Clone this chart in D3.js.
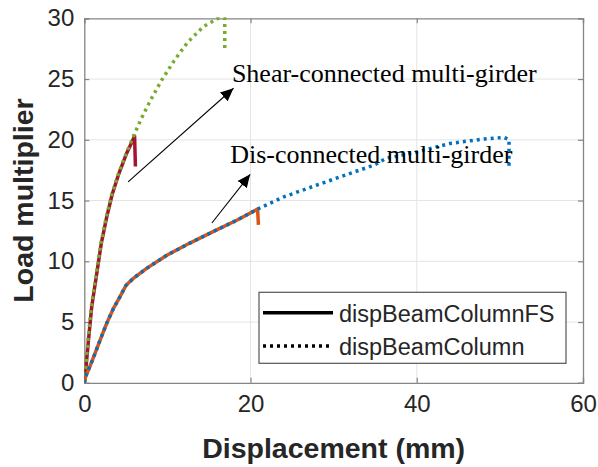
<!DOCTYPE html>
<html><head><meta charset="utf-8">
<script src="https://cdn.jsdelivr.net/npm/d3@7"></script>
<style>html,body{margin:0;padding:0;background:#fff;}svg{display:block;}</style>
</head><body>
<script>
// ---- data ----
const xTicks = [0, 20, 40, 60];
const yTicks = [0, 5, 10, 15, 20, 25, 30];
const seriesNames = ["dispBeamColumnFS", "dispBeamColumn"];

const shearFSx = [0, 0.1, 0.5, 0.9, 1.5, 2.05, 2.65, 3.35, 4.15, 5.1, 6.05, 6.15];
const shearFSy = [0, 0.5, 3.5, 6.3, 9.0, 11.5, 13.5, 15.5, 17.2, 18.9, 20.3, 17.8];

const shearDx = [0, 0.07, 0.45, 0.85, 1.45, 2.0, 2.6, 3.3, 4.1, 5.05, 5.95, 6.9, 8.0, 9.3, 10.8, 12.4, 14.3, 16.1, 16.9, 16.9];
const shearDy = [0, 0.5, 3.5, 6.3, 9.0, 11.5, 13.5, 15.5, 17.2, 18.9, 20.35, 21.8, 23.3, 24.9, 26.5, 28.0, 29.3, 30.0, 30.0, 27.4];

const disFSx = [0, 0.15, 1.0, 1.89, 2.7, 3.49, 4.3, 5.0, 5.9, 7.5, 9.93, 12.7, 15.5, 18.4, 20.85, 20.95];
const disFSy = [0, 0.5, 1.9, 3.5, 4.9, 6.1, 7.1, 8.0, 8.6, 9.42, 10.5, 11.5, 12.44, 13.4, 14.3, 13.0];

const disDx = [0, 0.15, 1.0, 1.89, 2.7, 3.49, 4.3, 5.0, 5.9, 7.5, 9.93, 12.7, 15.5, 18.4, 20.85, 24.0, 28.0, 32.0, 34.8, 36.4, 37.6, 40.0, 44.0, 48.1, 50.5, 51.1, 51.1];
const disDy = [0, 0.5, 1.9, 3.5, 4.9, 6.1, 7.1, 8.0, 8.6, 9.42, 10.5, 11.5, 12.44, 13.4, 14.3, 15.3, 16.28, 17.24, 17.9, 18.5, 18.65, 19.0, 19.7, 20.07, 20.2, 20.0, 17.65];

const labels = ["Shear-connected multi-girder", "Dis-connected multi-girder"];
const labelPos = [[17.76, 24.72], [17.55, 18.1]];
const arrowFrom = [[5.27, 16.53], [15.35, 13.15]];
const arrowTo = [[17.95, 24.24], [19.96, 17.16]];

// ---- layout ----
const W = 598, H = 467;
const x = d3.scaleLinear().domain([0, 60]).range([84.3, 583]);
const y = d3.scaleLinear().domain([0, 30]).range([382.8, 18.3]);
const axisCol = "#858585", textCol = "#262626";

const svg = d3.select("body").append("svg").attr("width", W).attr("height", H)
  .style("font-family", "'Liberation Sans', Arial, sans-serif");

const defs = svg.append("defs");
defs.append("clipPath").attr("id", "clip").append("rect")
  .attr("x", x(0)).attr("y", y(30) - 1).attr("width", x(60) - x(0)).attr("height", y(0) - y(30) + 1);
defs.append("marker").attr("id", "ah").attr("viewBox", "0 0 10 10").attr("refX", 10).attr("refY", 5)
  .attr("markerWidth", 13).attr("markerHeight", 13).attr("markerUnits", "userSpaceOnUse").attr("orient", "auto")
  .append("path").attr("d", "M0,0.5 L10,5 L0,9.5 Z").attr("fill", "#000");

// grid
const g = svg.append("g");
g.selectAll(".gx").data(xTicks.slice(1, -1)).enter().append("line")
  .attr("x1", d => x(d)).attr("x2", d => x(d)).attr("y1", y(0)).attr("y2", y(30))
  .attr("stroke", "#e4e4e4").attr("stroke-width", 1);
g.selectAll(".gy").data(yTicks.slice(1, -1)).enter().append("line")
  .attr("y1", d => y(d)).attr("y2", d => y(d)).attr("x1", x(0)).attr("x2", x(60))
  .attr("stroke", "#e4e4e4").attr("stroke-width", 1);

// axes (bottom/left with labels; top/right mirror ticks)
const tl = 5;
const axB = svg.append("g").attr("transform", `translate(0,${y(0)})`)
  .call(d3.axisBottom(x).tickValues(xTicks).tickSize(-tl).tickPadding(12).tickFormat(d3.format("d")));
const axL = svg.append("g").attr("transform", `translate(${x(0)},0)`)
  .call(d3.axisLeft(y).tickValues(yTicks).tickSize(-tl).tickPadding(10).tickFormat(d3.format("d")));
const axT = svg.append("g").attr("transform", `translate(0,${y(30)})`)
  .call(d3.axisTop(x).tickValues(xTicks).tickSize(-tl).tickFormat(""));
const axR = svg.append("g").attr("transform", `translate(${x(60)},0)`)
  .call(d3.axisRight(y).tickValues(yTicks).tickSize(-tl).tickFormat(""));
[axB, axL, axT, axR].forEach(a => {
  a.select(".domain").attr("stroke", axisCol).attr("stroke-width", 1.3);
  a.selectAll(".tick line").attr("stroke", axisCol).attr("stroke-width", 1.2);
  a.selectAll("text").attr("fill", textCol).style("font-size", "24px")
    .style("font-family", "'Liberation Sans', Arial, sans-serif");
});
axB.selectAll("text").attr("dy", "0.71em");

// axis titles
svg.append("text").attr("x", (x(0) + x(60)) / 2).attr("y", 458.3).attr("text-anchor", "middle")
  .attr("fill", textCol).style("font-size", "28.5px").style("font-weight", "bold").text("Displacement (mm)");
svg.append("text").attr("transform", `translate(33,${(y(0) + y(30)) / 2}) rotate(-90)`).attr("text-anchor", "middle")
  .attr("fill", textCol).style("font-size", "28.5px").style("font-weight", "bold").text("Load multiplier");

// series
const line = d3.line().x(d => x(d[0])).y(d => y(d[1]));
const zip = (a, b) => a.map((v, i) => [v, b[i]]);
const plot = svg.append("g").attr("clip-path", "url(#clip)");
const series = [
  { xs: shearFSx, ys: shearFSy, color: "#A2142F", dash: null },
  { xs: disFSx, ys: disFSy, color: "#D95319", dash: null },
  { xs: shearDx, ys: shearDy, color: "#77AC30", dash: "3,4" },
  { xs: disDx, ys: disDy, color: "#0072BD", dash: "3,4" }
];
series.forEach(s => {
  plot.append("path").attr("d", line(zip(s.xs, s.ys))).attr("fill", "none")
    .attr("stroke", s.color).attr("stroke-width", 3.5)
    .attr("stroke-dasharray", s.dash).attr("stroke-linejoin", "round");
});

// annotations
labels.forEach((t, i) => {
  svg.append("line").attr("x1", x(arrowFrom[i][0])).attr("y1", y(arrowFrom[i][1]))
    .attr("x2", x(arrowTo[i][0])).attr("y2", y(arrowTo[i][1]))
    .attr("stroke", "#000").attr("stroke-width", 1.1).attr("marker-end", "url(#ah)");
  svg.append("text").attr("x", x(labelPos[i][0])).attr("y", y(labelPos[i][1]))
    .style("font-family", "'Liberation Serif', 'Times New Roman', serif").style("font-size", "26px")
    .attr("fill", "#000").text(t);
});

// legend
const lg = svg.append("g");
lg.append("rect").attr("x", 259).attr("y", 292.3).attr("width", 307).attr("height", 71)
  .attr("fill", "#fff").attr("stroke", "#555").attr("stroke-width", 1.2);
seriesNames.forEach((n, i) => {
  const yy = i === 0 ? 312.7 : 346;
  lg.append("line").attr("x1", 263).attr("x2", 333).attr("y1", yy).attr("y2", yy)
    .attr("stroke", "#000").attr("stroke-width", 3.5).attr("stroke-dasharray", i === 0 ? null : "3,4");
  lg.append("text").attr("x", 339).attr("y", i === 0 ? 321.5 : 354.5).attr("fill", textCol)
    .style("font-size", "23.5px").text(n);
});
</script>
</body></html>
